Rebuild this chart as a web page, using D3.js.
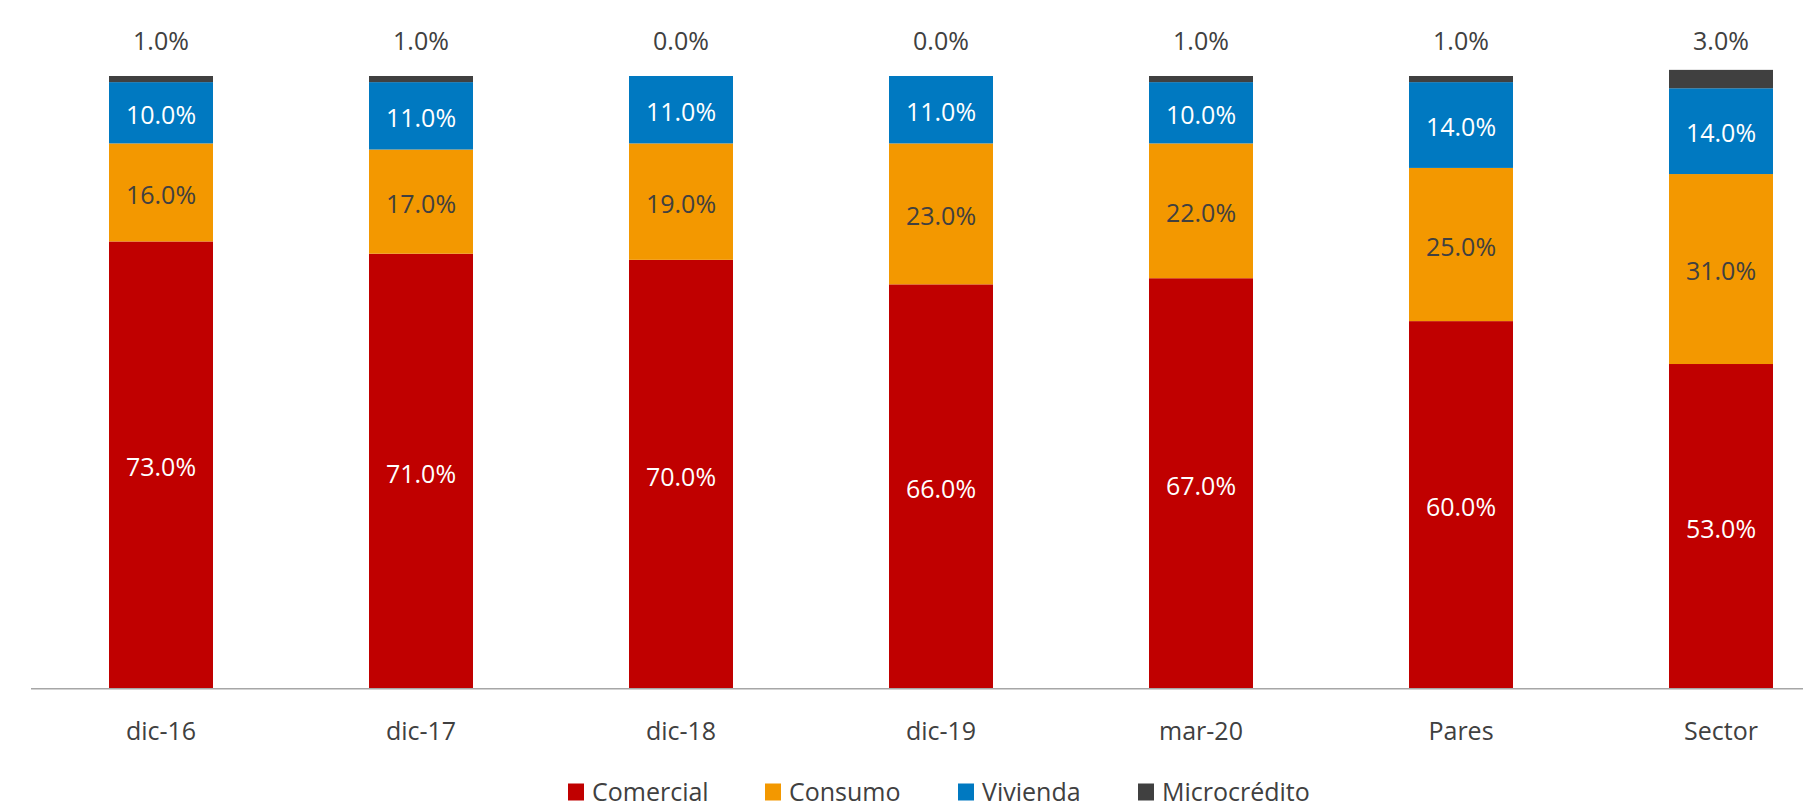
<!DOCTYPE html>
<html>
<head>
<meta charset="utf-8">
<script src="https://cdn.jsdelivr.net/npm/d3@7/dist/d3.min.js"></script>
<style>
  html, body { margin: 0; padding: 0; background: #fff; }
  svg { display: block; }
  text { font-family: "Open Sans", "Noto Sans", sans-serif; }
</style>
</head>
<body>
<svg id="chart" width="1803" height="808"></svg>
<script>
const categories = ["dic-16", "dic-17", "dic-18", "dic-19", "mar-20", "Pares", "Sector"];
const seriesNames = ["Comercial", "Consumo", "Vivienda", "Microcrédito"];
const comercial    = [73, 71, 70, 66, 67, 60, 53];
const consumo      = [16, 17, 19, 23, 22, 25, 31];
const vivienda     = [10, 11, 11, 11, 10, 14, 14];
const microcredito = [1, 1, 0, 0, 1, 1, 3];
const colors = ["#C00000", "#F39800", "#0079C1", "#404040"];
const labelColors = ["#FFFFFF", "#404040", "#FFFFFF", "#404040"];

const seriesValues = [comercial, consumo, vivienda, microcredito];
const rows = categories.map((c, i) => {
  const r = { cat: c };
  seriesNames.forEach((s, j) => r[s] = seriesValues[j][i]);
  return r;
});

const svg = d3.select("#chart");
const W = 1803, H = 808;

const x = d3.scaleBand().domain(categories).range([31, 1851]).paddingInner(0.6).paddingOuter(0.3);
const y = d3.scaleLinear().domain([0, 100]).range([688.8, 76]);

const stacked = d3.stack().keys(seriesNames)(rows);

const g = svg.append("g");
stacked.forEach((layer, si) => {
  g.append("g").selectAll("rect").data(layer).join("rect")
    .attr("x", d => x(d.data.cat))
    .attr("width", x.bandwidth())
    .attr("y", d => y(d[1]))
    .attr("height", d => Math.max(0, y(d[0]) - y(d[1])))
    .attr("fill", colors[si]);
});

// segment labels (first three series inside)
stacked.slice(0, 3).forEach((layer, si) => {
  g.append("g").selectAll("text").data(layer).join("text")
    .attr("x", d => x(d.data.cat) + x.bandwidth() / 2)
    .attr("y", d => (y(d[0]) + y(d[1])) / 2)
    .attr("dy", "0.45em")
    .attr("text-anchor", "middle")
    .attr("font-size", 25)
    .attr("fill", labelColors[si])
    .text(d => (d[1] - d[0]).toFixed(1) + "%");
});

// microcredito labels above bars
g.append("g").selectAll("text").data(stacked[3]).join("text")
  .attr("x", d => x(d.data.cat) + x.bandwidth() / 2)
  .attr("y", y(105.7))
  .attr("dy", "0.36em")
  .attr("text-anchor", "middle")
  .attr("font-size", 25)
  .attr("fill", labelColors[3])
  .text(d => (d[1] - d[0]).toFixed(1) + "%");

// x axis
const xAxis = d3.axisBottom(x).tickSize(0).tickPadding(0);
const ax = svg.append("g").attr("transform", `translate(0,${y(0)})`).call(xAxis);
ax.select(".domain").remove();
ax.selectAll("text")
  .attr("font-size", 25)
  .attr("fill", "#404040")
  .attr("y", 42)
  .attr("dy", "0.36em")
  .style("font-family", '"Open Sans", "Noto Sans", sans-serif');
svg.append("line")
  .attr("x1", 31).attr("x2", W)
  .attr("y1", y(0)).attr("y2", y(0))
  .attr("stroke", "#A6A6A6").attr("stroke-width", 1.5);

// legend
const legendX = [568, 765, 958, 1138];
const leg = svg.append("g");
seriesNames.forEach((s, i) => {
  const lg = leg.append("g").attr("transform", `translate(${legendX[i]},792)`);
  lg.append("rect").attr("x", 0).attr("y", -8.5).attr("width", 16).attr("height", 17).attr("fill", colors[i]);
  lg.append("text").attr("x", 24).attr("y", 0).attr("dy", "0.36em")
    .attr("font-size", 25).attr("fill", "#404040").text(s);
});
</script>
</body>
</html>
